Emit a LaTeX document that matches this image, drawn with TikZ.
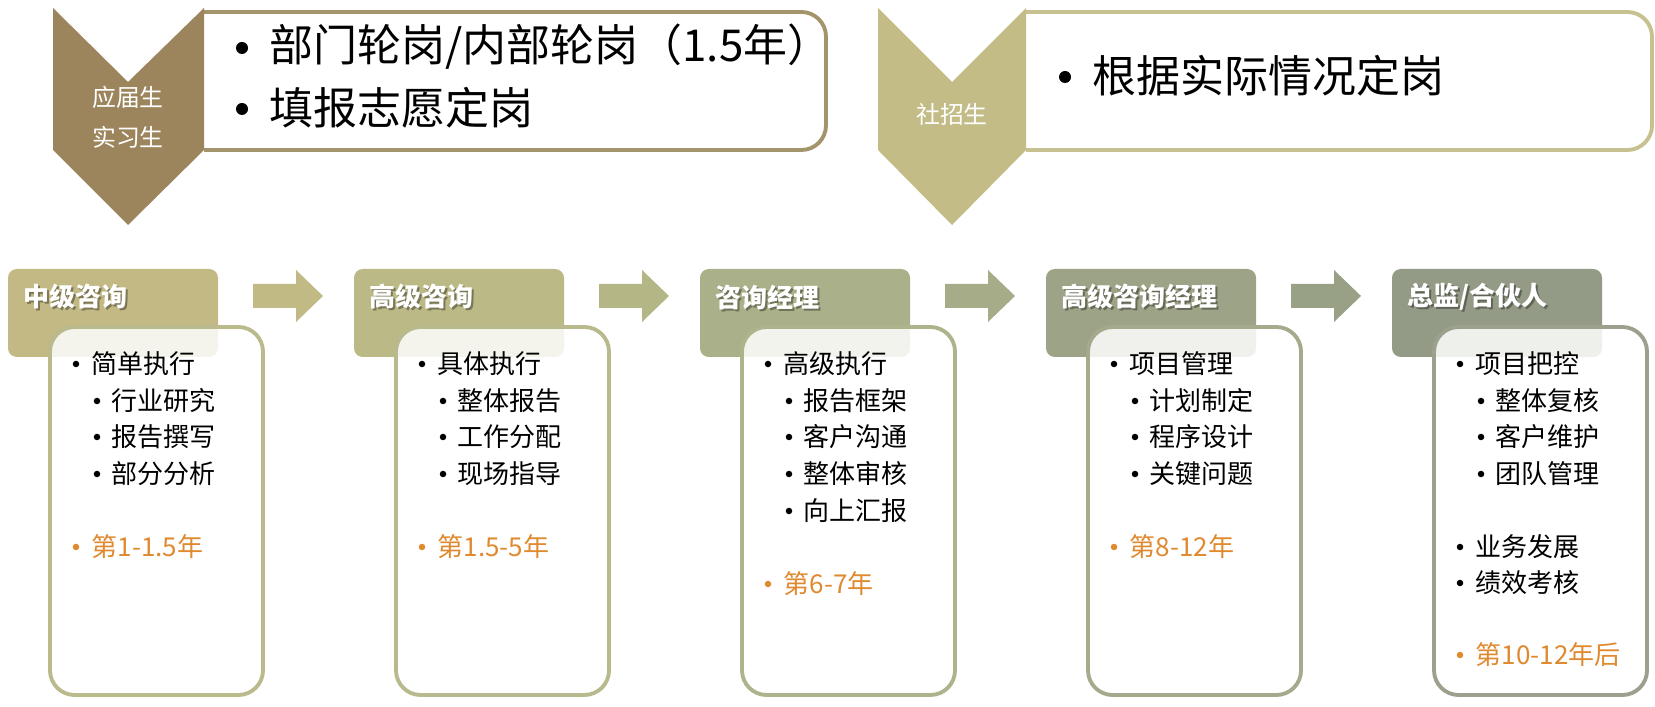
\documentclass[tikz,border=0pt]{standalone}
\usepackage{fontspec}
\setmainfont{Noto Sans CJK SC}
\usepackage{xcolor}
\usetikzlibrary{positioning,calc}
\definecolor{chevbrown}{HTML}{9C855C}
\definecolor{chevkhaki}{HTML}{C4BC87}
\definecolor{edgeA}{HTML}{A3946B}
\definecolor{edgeB}{HTML}{C7C090}
\definecolor{hd0}{HTML}{C2B984}
\definecolor{hd1}{HTML}{BBB985}
\definecolor{hd2}{HTML}{AAB089}
\definecolor{hd3}{HTML}{9CA386}
\definecolor{hd4}{HTML}{939B86}
\definecolor{ar0}{HTML}{C2BA84}
\definecolor{ar1}{HTML}{B4B685}
\definecolor{ar2}{HTML}{A6AC88}
\definecolor{ar3}{HTML}{98A086}
\definecolor{bd0}{HTML}{BBBA8C}
\definecolor{bd1}{HTML}{B8B98C}
\definecolor{bd2}{HTML}{AFB38B}
\definecolor{bd3}{HTML}{A5AA8D}
\definecolor{bd4}{HTML}{9CA18E}
\definecolor{yearorange}{HTML}{E08A30}

\tikzset{
  topline/.style={line width=1.1pt, rounded corners=7pt},
  chevtext/.style={text=white, align=center, inner sep=0pt, font=\fontsize{6.8}{11.4}\selectfont},
  bigtext/.style={anchor=west, inner sep=0pt, font=\fontsize{12.5}{15}\selectfont},
  bigdot/.style={circle, fill=black, inner sep=0pt, minimum size=0.12cm},
  hdtext/.style={anchor=west, inner sep=0pt, font=\fontsize{7.4}{9}\selectfont\bfseries},
  itemtext/.style={anchor=west, inner sep=0pt, font=\fontsize{7.4}{9}\selectfont},
  dotmark/.style={circle, fill=black, inner sep=0pt, minimum size=0.065cm},
}
% items in the lower boxes: name, box left, y, text
\newcommand{\majoritem}[4]{%
  \node[dotmark] at (#2+26,#3) {};
  \node[itemtext] (#1) at (#2+41,#3) {#4};}
\newcommand{\minoritem}[4]{%
  \node[dotmark] at (#2+47,#3) {};
  \node[itemtext] (#1) at (#2+61,#3) {#4};}
\newcommand{\yearitem}[4]{%
  \node[dotmark, fill=yearorange] at (#2+26,#3) {};
  \node[itemtext, text=yearorange] (#1) at (#2+41,#3) {#4};}

\begin{document}
\begin{tikzpicture}[x=0.01cm, y=-0.01cm]
    \useasboundingbox (0,0) rectangle (1655,707);

    % Top: entry boxes
    \draw[topline, draw=edgeA, fill=white] (204,12) -- (826,12) -- (826,150) -- (204,150);
    \draw[topline, draw=edgeB, fill=white] (1026,12) -- (1652,12) -- (1652,150) -- (1026,150);

    % Chevrons
    \fill[chevbrown] (53,8) -- (128,82) -- (204,8) -- (204,150) -- (128,225) -- (53,150) -- cycle;
    \fill[chevkhaki] (878,8) -- (952,82) -- (1026,8) -- (1026,150) -- (952,225) -- (878,150) -- cycle;
    \node[chevtext] (fresh) at (128,117) {应届生\\实习生};
    \node[chevtext] (social) at (952,114) {社招生};

    \node[bigtext] (rotate) at (269,47) {部门轮岗/内部轮岗（1.5年）};
    \node[bigtext] (choose) at (269,108) {填报志愿定岗};
    \node[bigtext] (fit) at (1092,76) {根据实际情况定岗};
    \foreach \x/\y in {242/48,242/109,1065/77}
        \node[bigdot] at (\x,\y) {};

    % Bottom: career steps
    \foreach \i/\title in {0/中级咨询,1/高级咨询,2/咨询经理,3/高级咨询经理,4/{总监/合伙人}}{
        \pgfmathsetmacro{\hx}{8+346*\i}
        \fill[hd\i, rounded corners=2.5pt] (\hx,269) rectangle ++(210,88);
        \node[hdtext, text=black, opacity=0.35] at (\hx+17,299) {\title};
        \node[hdtext, text=white] (head\i) at (\hx+15,297) {\title};
        \draw[bd\i, line width=1.1pt, fill=white, fill opacity=0.85, rounded corners=7pt]
            (\hx+42,327) rectangle ++(213,368);
    }

    % Block arrows between the steps
    \foreach \i in {0,1,2,3}{
        \pgfmathsetmacro{\ax}{253+346*\i}
        \fill[ar\i] (\ax,284) -- (\ax+43,284) -- (\ax+43,270) -- (\ax+70,296)
            -- (\ax+43,322) -- (\ax+43,308) -- (\ax,308) -- cycle;
    }

    % Column 1
    \majoritem{a0}{50}{364}{简单执行}
    \minoritem{a1}{50}{401}{行业研究}
    \minoritem{a2}{50}{437}{报告撰写}
    \minoritem{a3}{50}{474}{部分分析}
    \yearitem{ay}{50}{547}{第1-1.5年}

    % Column 2
    \majoritem{b0}{396}{364}{具体执行}
    \minoritem{b1}{396}{401}{整体报告}
    \minoritem{b2}{396}{437}{工作分配}
    \minoritem{b3}{396}{474}{现场指导}
    \yearitem{by}{396}{547}{第1.5-5年}

    % Column 3
    \majoritem{c0}{742}{364}{高级执行}
    \minoritem{c1}{742}{401}{报告框架}
    \minoritem{c2}{742}{437}{客户沟通}
    \minoritem{c3}{742}{474}{整体审核}
    \minoritem{c4}{742}{511}{向上汇报}
    \yearitem{cy}{742}{584}{第6-7年}

    % Column 4
    \majoritem{d0}{1088}{364}{项目管理}
    \minoritem{d1}{1088}{401}{计划制定}
    \minoritem{d2}{1088}{437}{程序设计}
    \minoritem{d3}{1088}{474}{关键问题}
    \yearitem{dy}{1088}{547}{第8-12年}

    % Column 5
    \majoritem{e0}{1434}{364}{项目把控}
    \minoritem{e1}{1434}{401}{整体复核}
    \minoritem{e2}{1434}{437}{客户维护}
    \minoritem{e3}{1434}{474}{团队管理}
    \majoritem{e4}{1434}{547}{业务发展}
    \majoritem{e5}{1434}{583}{绩效考核}
    \yearitem{ey}{1434}{655}{第10-12年后}
\end{tikzpicture}
\end{document}
